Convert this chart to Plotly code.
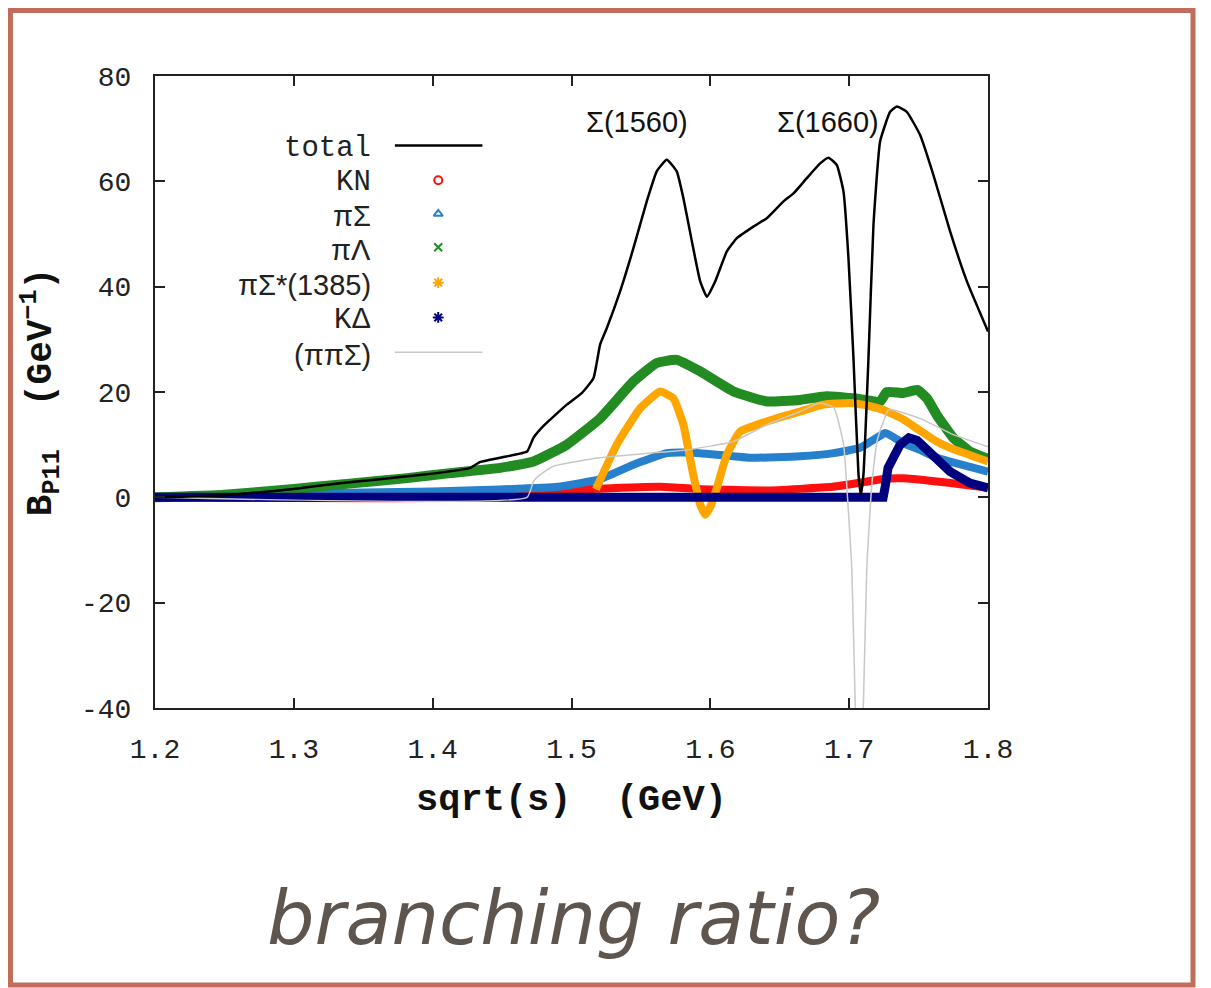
import plotly.graph_objects as go

# ---------------- data ----------------
total_x = [1.20, 1.25, 1.30, 1.33, 1.36, 1.40, 1.427, 1.434, 1.45, 1.468, 1.4726, 1.48, 1.4966,
           1.5074, 1.5158, 1.5206, 1.5254, 1.535, 1.5446, 1.5542, 1.5614, 1.5686, 1.5758, 1.5806,
           1.5867, 1.5927, 1.5975, 1.6035, 1.6119, 1.6191, 1.631, 1.6407, 1.6527, 1.6599, 1.6695,
           1.6791, 1.6851, 1.6911, 1.6959, 1.6995, 1.7031, 1.7067, 1.7084, 1.7103, 1.7139, 1.7175,
           1.7223, 1.7295, 1.7343, 1.7415, 1.7511, 1.7607, 1.7727, 1.7848, 1.80]
total_y = [0.0, 0.4, 1.6, 2.6, 3.4, 4.5, 5.6, 6.7, 7.6, 8.7, 11.3, 13.6, 17.6,
           19.8, 22.6, 29.0, 32.1, 39.1, 47.3, 56.2, 61.9, 64.1, 61.9, 56.8,
           48.6, 41.0, 38.1, 41.0, 46.7, 49.2, 51.4, 53.0, 56.2, 57.7, 60.6,
           63.4, 64.5, 63.1, 58.1, 45.4, 26.4, 4.4, 0.5, 4.4, 26.4, 51.7,
           67.6, 73.2, 74.2, 73.2, 68.8, 61.2, 50.5, 41.0, 31.5]

kn_x = [1.20, 1.43, 1.44, 1.47, 1.50, 1.52, 1.564, 1.59, 1.64, 1.688, 1.713, 1.7247, 1.739, 1.763, 1.78, 1.80]
kn_y = [0.0, 0.0, 0.6, 1.0, 1.4, 1.65, 2.0, 1.6, 1.3, 2.0, 3.0, 3.5, 3.6, 3.0, 2.5, 1.8]

pisig_x = [1.20, 1.25, 1.30, 1.35, 1.40, 1.4486, 1.49, 1.52, 1.5446, 1.5686, 1.583, 1.6047, 1.6287,
           1.6647, 1.6887, 1.7079, 1.7199, 1.726, 1.739, 1.751, 1.763, 1.7727, 1.80]
pisig_y = [0.0, 0.2, 0.6, 0.9, 1.1, 1.5, 2.0, 3.4, 6.2, 8.4, 8.5, 8.1, 7.5,
           7.8, 8.4, 9.4, 11.3, 12.2, 10.3, 9.0, 7.5, 6.8, 4.9]

pilam_x = [1.20, 1.25, 1.30, 1.34, 1.38, 1.4125, 1.4486, 1.4726, 1.4966, 1.5206, 1.5446, 1.5614,
           1.5758, 1.5927, 1.6167, 1.6407, 1.6647, 1.6839, 1.7031, 1.7223, 1.7271, 1.739, 1.749,
           1.756, 1.763, 1.775, 1.787, 1.80]
pilam_y = [0.0, 0.5, 1.6, 2.6, 3.6, 4.6, 5.6, 6.8, 10.0, 15.0, 22.0, 25.5,
           26.1, 23.9, 20.1, 18.2, 18.5, 19.2, 18.8, 18.2, 20.0, 19.8, 20.4,
           18.8, 15.7, 11.3, 8.7, 7.3]

pisigst_x = [1.5175, 1.5326, 1.5494, 1.5638, 1.5734, 1.5806, 1.5867, 1.5927, 1.5963, 1.6005, 1.6047,
             1.6119, 1.6215, 1.6407, 1.6647, 1.6815, 1.7007, 1.715, 1.7247, 1.739, 1.7487, 1.763,
             1.7727, 1.80]
pisigst_y = [1.5, 10.0, 16.9, 20.1, 18.8, 13.8, 5.6, -1.4, -3.3, -1.5, 1.8,
             8.1, 12.5, 14.4, 16.3, 17.6, 17.9, 17.3, 16.6, 14.8, 13.1, 10.6,
             9.4, 6.8]

kdel_x = [1.20, 1.7245, 1.726, 1.728, 1.7367, 1.743, 1.749, 1.7583, 1.7727, 1.787, 1.80]
kdel_y = [0.0, 0.0, 2.1, 5.6, 10.0, 11.3, 10.8, 8.7, 4.9, 2.7, 1.8]

pipisig_x = [1.20, 1.468, 1.4726, 1.4774, 1.487, 1.52, 1.556, 1.583, 1.6167, 1.6407, 1.6647, 1.679,
             1.689, 1.696, 1.699, 1.7019, 1.7043, 1.707, 1.7103, 1.7127, 1.7163, 1.72, 1.7247,
             1.7283, 1.732, 1.751, 1.775, 1.80]
pipisig_y = [0.0, 0.0, 3.0, 4.3, 5.9, 7.5, 8.4, 9.0, 10.6, 13.8, 16.3, 17.9,
             17.0, 10.0, -0.8, -13.4, -38.7, -60.0, -38.7, -13.4, 2.4, 10.6, 14.4,
             16.6, 16.6, 15.0, 11.9, 9.6]

x_ticks = [1.2, 1.3, 1.4, 1.5, 1.6, 1.7, 1.8]
x_ticktext = ["1.2", "1.3", "1.4", "1.5", "1.6", "1.7", "1.8"]
y_ticks = [-40, -20, 0, 20, 40, 60, 80]
y_ticktext = ["-40", "-20", "0", "20", "40", "60", "80"]

peak_labels = ["Σ(1560)", "Σ(1660)"]
peak_x = [1.5475, 1.685]

MONO = "Liberation Mono, Courier New, monospace"
SANS = "Liberation Sans, Arial, Helvetica, sans-serif"

C_RED = "#ff1010"
C_BLUE = "#2680cc"
C_GREEN = "#228b22"
C_ORANGE = "#ffa500"
C_NAVY = "#00007f"
C_GRAY = "#c8c8c8"

fig = go.Figure()

def band(x, y, color, width=9, shape="spline"):
    fig.add_trace(go.Scatter(x=x, y=y, mode="lines",
                             line=dict(color=color, width=width, shape=shape, smoothing=0.4),
                             showlegend=False, hoverinfo="skip"))

band(kn_x, kn_y, C_RED, 8)
band(pisig_x, pisig_y, C_BLUE, 8)
band(pilam_x, pilam_y, C_GREEN, 10)
band(pisigst_x, pisigst_y, C_ORANGE, 8)
band(kdel_x, kdel_y, C_NAVY, 9, shape="linear")
fig.add_trace(go.Scatter(x=pipisig_x, y=pipisig_y, mode="lines",
                         line=dict(color=C_GRAY, width=1.5, shape="spline", smoothing=0.4),
                         showlegend=False, hoverinfo="skip"))
fig.add_trace(go.Scatter(x=total_x, y=total_y, mode="lines",
                         line=dict(color="black", width=2.5, shape="spline", smoothing=0.4),
                         showlegend=False, hoverinfo="skip"))

# ---------------- hand-made legend (labels left of the samples, as in gnuplot) -------------
leg_labels = ["total", "KN", "πΣ", "πΛ", "πΣ*(1385)",
              "<span style='font-family:Liberation Mono'>K</span>Δ", "(ππΣ)"]
leg_fonts = [MONO, MONO, SANS, SANS, SANS, SANS, SANS]
leg_sizes = [29, 29, 29, 29, 29, 29, 29]
leg_rows = [0.886, 0.831, 0.778, 0.725, 0.669, 0.614, 0.559]
leg_text_x = 0.262
leg_sample_x = 0.34
leg_line_x0, leg_line_x1 = 0.288, 0.393

for lab, fnt, fs, yy in zip(leg_labels, leg_fonts, leg_sizes, leg_rows):
    fig.add_annotation(x=leg_text_x, y=yy, xref="paper", yref="paper", text=lab, showarrow=False,
                       xanchor="right", yanchor="middle",
                       font=dict(family=fnt, size=fs, color="#222"))

fig.add_shape(type="line", xref="paper", yref="paper", x0=leg_line_x0, x1=leg_line_x1,
              y0=leg_rows[0] + 0.004, y1=leg_rows[0] + 0.004, line=dict(color="black", width=2.5))
fig.add_shape(type="line", xref="paper", yref="paper", x0=leg_line_x0, x1=leg_line_x1,
              y0=leg_rows[6] + 0.004, y1=leg_rows[6] + 0.004, line=dict(color=C_GRAY, width=1.5))

sym = ["circle-open", "triangle-up-open", "x-thin-open", "asterisk-open", "asterisk-open"]
cols = [C_RED, C_BLUE, C_GREEN, C_ORANGE, C_NAVY]
sizes = [8, 8, 8, 9, 9]
for s, c, sz, yy in zip(sym, cols, sizes, leg_rows[1:6]):
    fig.add_trace(go.Scatter(x=[leg_sample_x], y=[yy + 0.004], xaxis="x2", yaxis="y2", mode="markers",
                             marker=dict(symbol=s, color=c, size=sz, line=dict(color=c, width=2)),
                             showlegend=False, hoverinfo="skip"))

# peak labels
for lab, px in zip(peak_labels, peak_x):
    fig.add_annotation(x=px, y=0.928, xref="x", yref="paper", text=lab, showarrow=False,
                       xanchor="center", yanchor="middle",
                       font=dict(family=SANS, size=29, color="#111"))

# slide caption
fig.add_annotation(x=0.502, y=-0.333, xref="paper", yref="paper", text="branching ratio?",
                   showarrow=False, xanchor="center", yanchor="middle",
                   font=dict(family="DejaVu Sans, sans-serif", size=75, color="#5e554f",
                             style="italic"))

# slide border
fig.add_shape(type="rect", xref="paper", yref="paper", x0=-0.1735, x1=1.2461, y0=-0.4383, y1=1.1036,
              line=dict(color="#c26d5c", width=5), fillcolor="rgba(0,0,0,0)", layer="above")

axis_common = dict(showgrid=False, zeroline=False, ticks="inside", ticklen=10, tickwidth=1.5,
                   tickcolor="#222", showline=True, linecolor="#222", linewidth=2, mirror="ticks",
                   tickfont=dict(family=MONO, size=28, color="#222"))

# the page adds an 8 px body margin, so the figure is 8 px smaller and margins shifted
fig.update_layout(
    width=1203, height=980,
    margin=dict(l=147, r=223, t=68, b=280),
    paper_bgcolor="white", plot_bgcolor="white",
    showlegend=False,
    xaxis=dict(range=[1.2, 1.8], tickvals=x_ticks, ticktext=x_ticktext, ticklabelstandoff=14,
               title=dict(text="<b>sqrt(s)  (GeV)</b>", standoff=20,
                          font=dict(family=MONO, size=37, color="#111")),
               **axis_common),
    yaxis=dict(range=[-40, 80], tickvals=y_ticks, ticktext=y_ticktext, ticklabelstandoff=16,
               title=dict(text="<b>B<sub>P11</sub>  (GeV<sup>−1</sup>)</b>", standoff=18,
                          font=dict(family=MONO, size=36, color="#111")),
               **axis_common),
    xaxis2=dict(overlaying="x", range=[0, 1], visible=False, anchor="y2"),
    yaxis2=dict(overlaying="y", range=[0, 1], visible=False, anchor="x2"),
)

fig.write_html("out.html")
